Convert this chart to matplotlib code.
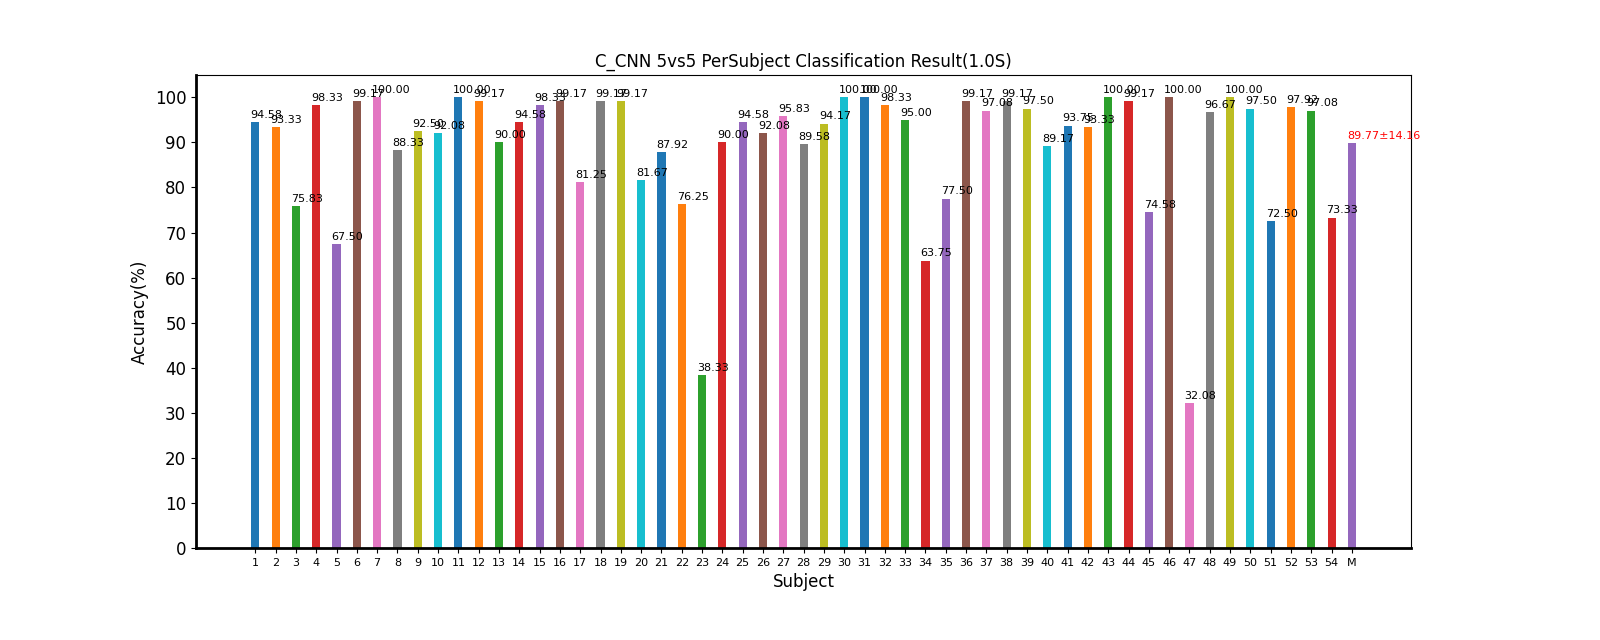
import matplotlib
matplotlib.use("Agg")
import matplotlib.pyplot as plt
import numpy as np

subjects = [str(i) for i in range(1, 55)] + ["M"]
accuracy = [94.58, 93.33, 75.83, 98.33, 67.50, 99.17, 100.00, 88.33, 92.50, 92.08,
            100.00, 99.17, 90.00, 94.58, 98.33, 99.17, 81.25, 99.17, 99.17, 81.67,
            87.92, 76.25, 38.33, 90.00, 94.58, 92.08, 95.83, 89.58, 94.17, 100.00,
            100.00, 98.33, 95.00, 63.75, 77.50, 99.17, 97.08, 99.17, 97.50, 89.17,
            93.75, 93.33, 100.00, 99.17, 74.58, 100.00, 32.08, 96.67, 100.00, 97.50,
            72.50, 97.92, 97.08, 73.33, 89.77]
mean_std_label = "89.77±14.16"

fig = plt.figure(figsize=(16, 6.4), dpi=100)
ax = fig.add_subplot(111)
fig.subplots_adjust(left=0.1225, right=0.882, top=0.883, bottom=0.144)

colors = plt.rcParams['axes.prop_cycle'].by_key()['color']
x = np.arange(len(subjects))
for i, v in enumerate(accuracy):
    ax.bar(x[i], v, width=0.4, color=colors[i % len(colors)])
    if i == len(accuracy) - 1:
        ax.text(x[i] - 0.25, v + 0.5, mean_std_label, color='red', fontsize=8,
                ha='left', va='bottom')
    else:
        ax.text(x[i] - 0.25, v + 0.5, '%.2f' % v, color='black', fontsize=8,
                ha='left', va='bottom')

ax.set_xticks(x)
ax.set_xticklabels(subjects, fontsize=8)
ax.set_yticks(np.arange(0, 101, 10))
ax.tick_params(axis='y', labelsize=12)
ax.set_xlabel('Subject', fontsize=12)
ax.set_ylabel('Accuracy(%)', fontsize=12)
ax.set_title('C_CNN 5vs5 PerSubject Classification Result(1.0S)', fontsize=12)
ax.spines['bottom'].set_linewidth(2)
ax.spines['left'].set_linewidth(2)

fig.savefig('out.png', dpi=100)
